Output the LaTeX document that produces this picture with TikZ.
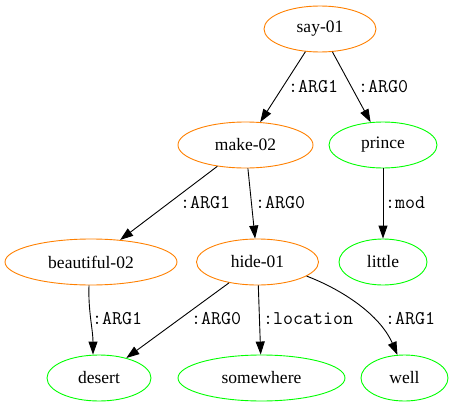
\documentclass[tikz,border=0pt]{standalone}
\usepackage{fontspec}
\setmainfont{Liberation Serif}
\usetikzlibrary{shapes.geometric,arrows.meta}
\tikzset{
  concept/.style={ellipse, draw=orange, line width=0.9pt, inner sep=0pt,
    minimum height=46pt, font=\fontsize{17.5}{20}\selectfont},
  entity/.style={concept, draw=green},
  edge/.style={line width=0.9pt, -{Triangle[length=13pt,width=9pt]}},
  rel/.style={anchor=west, inner sep=0pt, font=\ttfamily\fontsize{19.4}{22}\selectfont}
}
\begin{document}
\begin{tikzpicture}[x=1pt,y=-1pt]
\useasboundingbox (0,0) rectangle (453,407);
% concepts
\node[concept, minimum width=112pt] (say) at (320,29) {say-01};
\node[concept, minimum width=135pt] (make) at (245.5,145) {make-02};
\node[entity, minimum width=108pt] (prince) at (383,145) {prince};
\node[concept, minimum width=172pt] (beaut) at (91,262) {beautiful-02};
\node[concept, minimum width=122pt] (hide) at (257.5,262) {hide-01};
\node[entity, minimum width=88pt] (little) at (383,262) {little};
\node[entity, minimum width=104pt] (desert) at (99,378) {desert};
\node[entity, minimum width=167pt] (somewhere) at (261.5,378) {somewhere};
\node[entity, minimum width=87pt] (well) at (404.5,378) {well};
% relations
\draw[edge] (say) -- (make);
\draw[edge] (say) -- (prince);
\draw[edge] (make) -- (beaut);
\draw[edge] (make) -- (hide);
\draw[edge] (prince) -- (little);
\draw[edge] ([xshift=-2pt]beaut.south) .. controls (88,310) and (93,330) .. ([xshift=-6pt]desert.north);
\draw[edge] (hide) -- (desert);
\draw[edge] (hide) -- (somewhere);
\draw[edge] (hide.-16) .. controls (343,290) and (380,315) .. (well.107);
% relation labels
\node[rel] (l1) at (288,87) {:ARG1};
\node[rel] (l2) at (358,87) {:ARG0};
\node[rel] (l3) at (180,203) {:ARG1};
\node[rel] (l4) at (255,203) {:ARG0};
\node[rel] (l5) at (385,203) {:mod};
\node[rel] (l6) at (92,319) {:ARG1};
\node[rel] (l7) at (191,319) {:ARG0};
\node[rel] (l8) at (263,319) {:location};
\node[rel] (l9) at (385,319) {:ARG1};
\end{tikzpicture}
\end{document}
